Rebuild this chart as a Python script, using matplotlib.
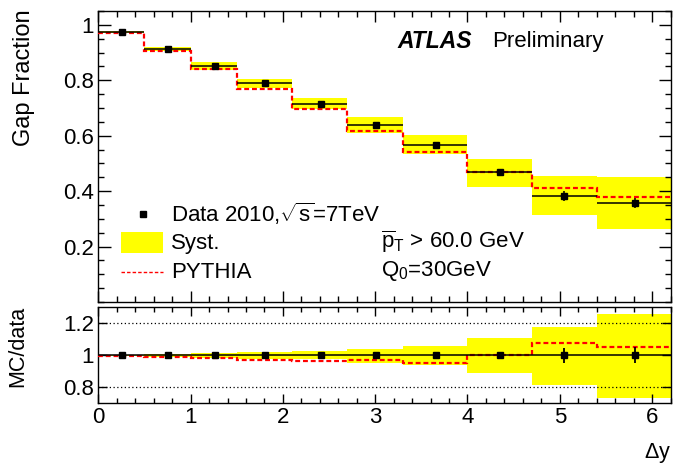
import matplotlib
matplotlib.use("Agg")
import matplotlib.pyplot as plt
from matplotlib.ticker import MultipleLocator, FixedLocator
from matplotlib.patches import Rectangle
from matplotlib.lines import Line2D
import numpy as np

plt.rcParams['font.family'] = ['Liberation Sans', 'DejaVu Sans']
plt.rcParams['mathtext.fontset'] = 'custom'
plt.rcParams['mathtext.rm'] = 'Liberation Sans'
plt.rcParams['mathtext.it'] = 'Liberation Sans:italic'
plt.rcParams['mathtext.bf'] = 'Liberation Sans:bold'

# ---- data ----
bin_edges = [0.0, 0.5, 1.0, 1.5, 2.1, 2.7, 3.3, 4.0, 4.7, 5.4, 6.2]
x_points = [0.26, 0.76, 1.26, 1.81, 2.41, 3.01, 3.66, 4.35, 5.05, 5.81]
data_values = [0.975, 0.912, 0.852, 0.790, 0.716, 0.638, 0.566, 0.469, 0.384, 0.357]
data_stat = [0.002, 0.003, 0.003, 0.004, 0.005, 0.006, 0.007, 0.008, 0.018, 0.018]
syst_low = [0.971, 0.904, 0.838, 0.772, 0.697, 0.610, 0.534, 0.416, 0.315, 0.265]
syst_high = [0.979, 0.920, 0.866, 0.804, 0.736, 0.666, 0.604, 0.517, 0.456, 0.452]
pythia_values = [0.970, 0.904, 0.840, 0.768, 0.696, 0.618, 0.540, 0.469, 0.413, 0.378]

ratio_pythia = [0.995, 0.990, 0.985, 0.970, 0.965, 0.970, 0.952, 1.000, 1.075, 1.055]
ratio_stat = [0.003, 0.004, 0.005, 0.007, 0.010, 0.012, 0.015, 0.020, 0.047, 0.050]
ratio_syst_low = [0.996, 0.990, 0.985, 0.980, 0.977, 0.955, 0.937, 0.890, 0.813, 0.735]
ratio_syst_high = [1.004, 1.010, 1.015, 1.020, 1.027, 1.042, 1.058, 1.107, 1.176, 1.260]
ratio_data = [1.0] * 10

x_ticks = [0, 1, 2, 3, 4, 5, 6]
top_yticks = [0.2, 0.4, 0.6, 0.8, 1.0]
top_yticklabels = ['0.2', '0.4', '0.6', '0.8', '1']
bot_yticks = [0.8, 1.0, 1.2]
bot_yticklabels = ['0.8', '1', '1.2']

W, H = 673, 466
fig = plt.figure(figsize=(W / 100, H / 100), dpi=100)

def fx(px):
    return px / W

def fy(py):
    return 1 - py / H

L, R = 98.3, 670.5
ax = fig.add_axes([fx(L), fy(302), fx(R) - fx(L), fy(11) - fy(302)])
axr = fig.add_axes([fx(L), fy(403.3), fx(R) - fx(L), fy(307.3) - fy(403.3)])

FS = 16
yellow = '#ffff00'
edges = np.array(bin_edges)
lefts = edges[:-1]
widths = np.diff(edges)

# ---- top panel ----
ax.bar(lefts, np.array(syst_high) - np.array(syst_low), width=widths,
       bottom=syst_low, align='edge', color=yellow, linewidth=0, zorder=1)
ax.stairs(pythia_values, edges, baseline=None, color='red', lw=1.6,
          linestyle=(0, (2.2, 1.3)), zorder=3)
ax.hlines(data_values, lefts, edges[1:], color='black', lw=1.1, zorder=4)
ax.errorbar(x_points, data_values, yerr=data_stat, fmt='s', color='black',
            ms=5, elinewidth=1.1, capsize=0, zorder=5)

ax.set_xlim(0, 6.2)
ax.set_ylim(0, 1.05)
ax.xaxis.set_major_locator(FixedLocator(x_ticks))
ax.xaxis.set_minor_locator(MultipleLocator(0.2))
ax.yaxis.set_major_locator(FixedLocator(top_yticks))
ax.set_yticklabels(top_yticklabels)
ax.yaxis.set_minor_locator(MultipleLocator(0.05))
ax.tick_params(which='both', direction='in', top=True, right=True, width=1)
ax.tick_params(which='major', length=9, labelsize=FS, pad=3)
ax.tick_params(which='minor', length=4.5)
ax.tick_params(axis='x', labelbottom=False)
ax.tick_params(axis='x', which='major', length=8)
for s in ax.spines.values():
    s.set_linewidth(1.0)

# annotations
fig.text(fx(397), fy(42), 'ATLAS', fontsize=16.5, fontweight='bold',
         fontstyle='italic', va='center', ha='left')
fig.text(fx(492), fy(42), 'Preliminary', fontsize=FS, va='center', ha='left')
fig.text(fx(381), fy(248), r'$\overline{\mathrm{p}}_{\mathrm{T}}$ > 60.0 GeV',
         fontsize=FS, va='baseline', ha='left')
fig.text(fx(381), fy(276), r'Q$_{\mathrm{0}}$=30GeV', fontsize=FS,
         va='baseline', ha='left')

# legend (manual)
fig.add_artist(Line2D([fx(143)], [fy(214)], marker='s', color='black', ms=4,
                      linestyle='none'))
fig.text(fx(171), fy(214), r'Data 2010,$\sqrt{\mathrm{s}}$=7TeV', fontsize=FS,
         va='center', ha='left')
fig.add_artist(Rectangle((fx(121), fy(253)), fx(163) - fx(121), fy(232) - fy(253),
                         transform=fig.transFigure, color=yellow, lw=0))
fig.text(fx(171), fy(243), 'Syst.', fontsize=FS, va='center', ha='left')
fig.add_artist(Line2D([fx(121), fx(163)], [fy(272), fy(272)], color='red',
                      lw=1.0, linestyle=(0, (2.5, 1.5))))
fig.text(fx(171), fy(272), 'PYTHIA', fontsize=FS, va='center', ha='left')

# ---- ratio panel ----
axr.bar(lefts, np.array(ratio_syst_high) - np.array(ratio_syst_low), width=widths,
        bottom=ratio_syst_low, align='edge', color=yellow, linewidth=0, zorder=1)
axr.axhline(1.2, color='black', lw=0.9, linestyle=(0, (1, 2)), zorder=2)
axr.axhline(0.8, color='black', lw=0.9, linestyle=(0, (1, 2)), zorder=2)
axr.stairs(ratio_pythia, edges, baseline=None, color='red', lw=1.6,
           linestyle=(0, (2.2, 1.3)), zorder=3)
axr.hlines(ratio_data, lefts, edges[1:], color='black', lw=1.1, zorder=4)
axr.errorbar(x_points, ratio_data, yerr=ratio_stat, fmt='s', color='black',
             ms=5, elinewidth=1.3, capsize=0, zorder=5)

axr.set_xlim(0, 6.2)
axr.set_ylim(0.7, 1.3)
axr.xaxis.set_major_locator(FixedLocator(x_ticks))
axr.xaxis.set_minor_locator(MultipleLocator(0.2))
axr.yaxis.set_major_locator(FixedLocator(bot_yticks))
axr.set_yticklabels(bot_yticklabels)
axr.set_xticklabels([str(t) for t in x_ticks])
axr.tick_params(which='both', direction='in', top=True, right=True, width=1)
axr.tick_params(which='major', length=6.5, labelsize=FS, pad=3)
axr.tick_params(which='minor', length=3.5)
for s in axr.spines.values():
    s.set_linewidth(1.0)

# axis titles
fig.text(fx(24), fy(9), 'Gap Fraction', rotation=90, fontsize=17,
         ha='center', va='top')
fig.text(fx(18), fy(306), 'MC/data', rotation=90, fontsize=15.5,
         ha='center', va='top')
fig.text(fx(671), fy(458), r'$\Delta$y', fontsize=15.5, ha='right', va='baseline')

fig.savefig('out.png', dpi=100)
